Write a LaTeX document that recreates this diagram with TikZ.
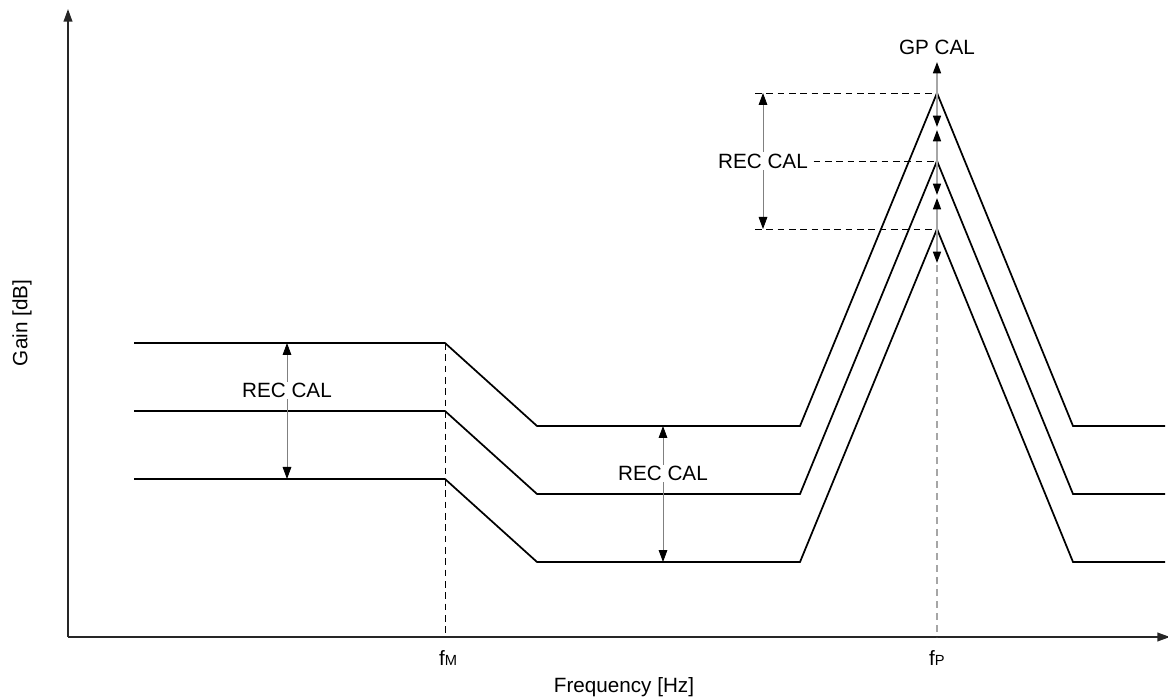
\documentclass[tikz,border=0pt]{standalone}
\usepackage{fontspec}
\setmainfont{Liberation Sans}
\usetikzlibrary{arrows.meta}
\tikzstyle{curve} = [line width=1.3pt, black]
\tikzstyle{axis} = [line width=1.3pt, black!85, -{Triangle[length=9.5pt,width=6.5pt]}]
\tikzstyle{calarrow} = [gray, line width=0.6pt, {Triangle[length=9pt,width=6.5pt,black]}-{Triangle[length=9pt,width=6.5pt,black]}]
\tikzstyle{gparrow} = [gray!70, line width=1.2pt, -{Triangle[length=8.5pt,width=6pt,black]}]
\tikzstyle{guide} = [black, line width=0.5pt, dash pattern=on 5pt off 3.5pt]
\tikzstyle{fpguide} = [gray!70, line width=1.2pt, dash pattern=on 5pt off 4pt]
\tikzstyle{txt} = [font=\fontsize{15.5}{18}\selectfont, inner sep=1pt, text=black]
\tikzstyle{calbox} = [txt, fill=white]
\newcommand{\sublet}[1]{{\fontsize{11}{12}\selectfont #1}}
\begin{document}
\begin{tikzpicture}[x=0.75pt, y=-0.75pt]
\useasboundingbox (0,0) rectangle (1168,698);
% gain curves, one per calibration step
\foreach \d/\n in {0/hi,68/mid,136/lo}{
  \draw[curve] (134,343+\d) -- (445,343+\d) -- (537,426+\d) -- (800,426+\d) -- (937,93+\d) -- (1073,426+\d) -- (1165,426+\d);
  \coordinate (\n-k) at (445,343+\d);
  \coordinate (\n-l) at (287,343+\d);
  \coordinate (\n-m) at (663,426+\d);
  \coordinate (\n-p) at (937,93+\d);
}
\coordinate (o) at (68,637);
\coordinate (ytop) at (68,9);
\coordinate (xend) at (1170,637);
\coordinate (fm) at (445,637);
\coordinate (fp) at (937,637);
\coordinate (pk-t) at (763,93);
\coordinate (pk-b) at (763,229);
\draw[axis] (o) -- (ytop);
\draw[axis] (o) -- (xend);
\draw[guide] (hi-k) -- (fm);
\draw[fpguide] (lo-p) -- (fp);
\draw[guide] ([xshift=-6pt]pk-t) -- (hi-p);
\draw[guide] ([xshift=-6pt]pk-b) -- (lo-p);
\draw[calarrow] (hi-l) -- node[calbox, pos=.35] {REC CAL} (lo-l);
\draw[calarrow] (hi-m) -- node[calbox, pos=.35] {REC CAL} (lo-m);
\draw[calarrow] (pk-t) -- node[calbox, pos=.5] (reclab) {REC CAL} (pk-b);
\draw[guide] ([xshift=3pt]reclab.east) -- (mid-p);
\foreach \n in {hi,mid,lo}{
  \draw[gparrow] (\n-p) -- ++(0,-31);
  \draw[gparrow] (\n-p) -- ++(0,34);
}
\node[txt] (gp) at (937,47) {GP CAL};
\node[txt] (fmlab) at (448,658) {f\sublet{M}};
\node[txt] (fplab) at (937,658) {f\sublet{P}};
\node[txt] (xlab) at (624,687) {Frequency [Hz]};
\node[txt, rotate=90] (ylab) at (22,323) {Gain [dB]};
\end{tikzpicture}
\end{document}
